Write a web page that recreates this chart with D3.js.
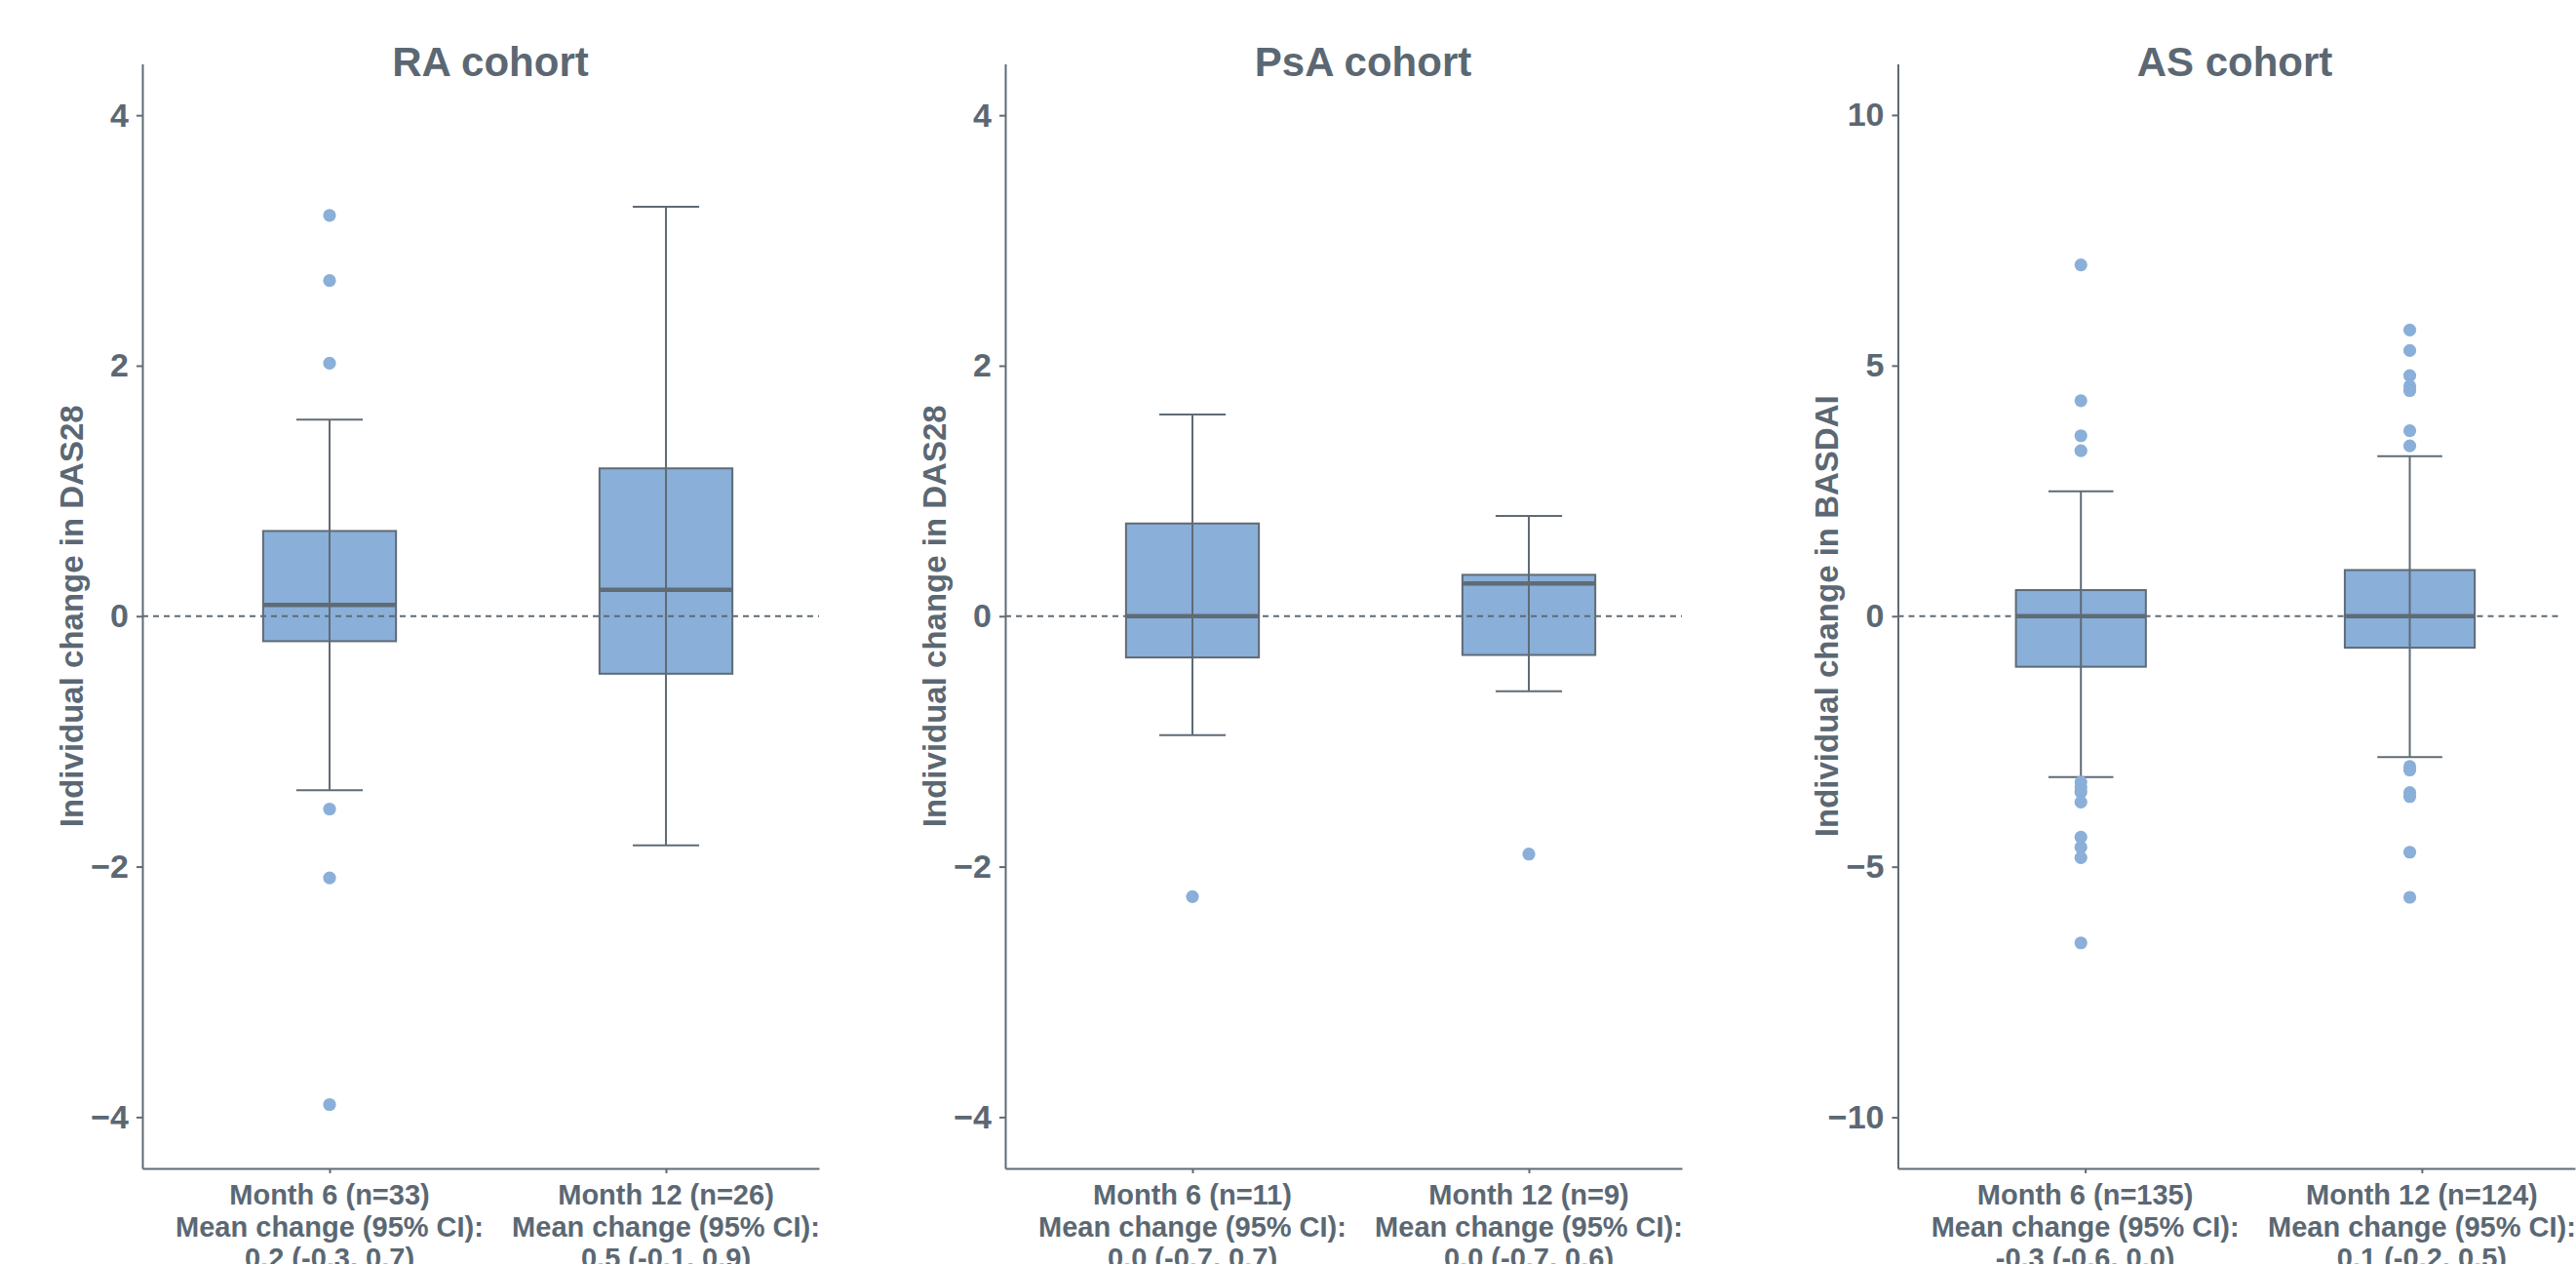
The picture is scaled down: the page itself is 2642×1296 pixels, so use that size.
<!DOCTYPE html>
<html>
<head>
<meta charset="utf-8">
<script src="https://cdn.jsdelivr.net/npm/d3@7"></script>
<style>
  html, body { margin: 0; padding: 0; background: #ffffff; }
  svg { display: block; }
  text { font-family: "Liberation Sans", Arial, sans-serif; font-weight: bold; fill: #5b6873; }
</style>
</head>
<body>
<svg id="chart" width="2642" height="1296"></svg>
<script>
// ---------- DATA ----------
const cohortTitles = ["RA cohort", "PsA cohort", "AS cohort"];
const yTitles = ["Individual change in DAS28", "Individual change in DAS28", "Individual change in BASDAI"];
const timepoints = [1, 2]; // Month 6, Month 12

const raTicks = [-4, -2, 0, 2, 4];
const psaTicks = [-4, -2, 0, 2, 4];
const asTicks = [-10, -5, 0, 5, 10];

// box statistics per timepoint [Month 6, Month 12]
const raLow = [-1.39, -1.83];
const raQ1 = [-0.20, -0.46];
const raMedian = [0.09, 0.21];
const raQ3 = [0.68, 1.18];
const raHigh = [1.57, 3.27];
const raOutM6 = [3.20, 2.68, 2.02, -1.54, -2.09, -3.90];
const raOutM12 = [];

const psaLow = [-0.95, -0.60];
const psaQ1 = [-0.33, -0.31];
const psaMedian = [0.0, 0.26];
const psaQ3 = [0.74, 0.33];
const psaHigh = [1.61, 0.80];
const psaOutM6 = [-2.24];
const psaOutM12 = [-1.90];

const asLow = [-3.21, -2.81];
const asQ1 = [-1.01, -0.63];
const asMedian = [0.0, 0.0];
const asQ3 = [0.52, 0.92];
const asHigh = [2.49, 3.19];
const asOutM6 = [7.01, 4.30, 3.60, 3.30, -3.31, -3.41, -3.51, -3.71, -4.41, -4.61, -4.82, -6.52];
const asOutM12 = [5.71, 5.30, 4.80, 4.59, 4.50, 3.70, 3.40, -3.00, -3.07, -3.52, -3.60, -4.71, -5.61];

const raLabels = [["Month 6 (n=33)", "Mean change (95% CI):", "0.2 (-0.3, 0.7)"],
                  ["Month 12 (n=26)", "Mean change (95% CI):", "0.5 (-0.1, 0.9)"]];
const psaLabels = [["Month 6 (n=11)", "Mean change (95% CI):", "0.0 (-0.7, 0.7)"],
                   ["Month 12 (n=9)", "Mean change (95% CI):", "0.0 (-0.7, 0.6)"]];
const asLabels = [["Month 6 (n=135)", "Mean change (95% CI):", "-0.3 (-0.6, 0.0)"],
                  ["Month 12 (n=124)", "Mean change (95% CI):", "0.1 (-0.2, 0.5)"]];

const yLimits = [4.41, 4.41, 11.02];

// ---------- LAYOUT ----------
const panels = [
  { axisLeft: 146, axisRight: 840, markRight: 840, titleX: 503,
    ticks: raTicks, low: raLow, q1: raQ1, med: raMedian, q3: raQ3, high: raHigh,
    outliers: [raOutM6, raOutM12], labels: raLabels },
  { axisLeft: 1031, axisRight: 1725, markRight: 1725, titleX: 1398,
    ticks: psaTicks, low: psaLow, q1: psaQ1, med: psaMedian, q3: psaQ3, high: psaHigh,
    outliers: [psaOutM6, psaOutM12], labels: psaLabels },
  { axisLeft: 1946.5, axisRight: 2641, markRight: 2625, titleX: 2292,
    ticks: asTicks, low: asLow, q1: asQ1, med: asMedian, q3: asQ3, high: asHigh,
    outliers: [asOutM6, asOutM12], labels: asLabels }
];

const plotTop = 65.5, plotBottom = 1198;
const xDomain = [0.4435, 2.455];
const inkColor = "#5f6b75";
const boxFill = "#8aafd8";

const svg = d3.select("#chart");
svg.append("rect").attr("width", 2642).attr("height", 1296).attr("fill", "#fff");

panels.forEach((p, i) => {
  const g = svg.append("g");
  const y = d3.scaleLinear().domain([-yLimits[i], yLimits[i]]).range([plotBottom, plotTop]);
  const xTick = d3.scaleLinear().domain(xDomain).range([p.axisLeft, p.axisRight]);
  const xMark = d3.scaleLinear().domain(xDomain).range([p.axisLeft, p.markRight]);
  const unit = xMark(2) - xMark(1);
  const boxW = unit * 0.395;
  const capW = boxW / 2;

  // title
  g.append("text").attr("x", p.titleX).attr("y", 78)
    .attr("text-anchor", "middle").attr("font-size", 42).text(cohortTitles[i]);

  // y axis title
  const yMid = (plotTop + plotBottom) / 2;
  g.append("text")
    .attr("transform", `translate(${p.axisLeft - 73},${yMid}) rotate(-90)`)
    .attr("text-anchor", "middle").attr("dominant-baseline", "central")
    .attr("font-size", 33).text(yTitles[i]);

  // boxes
  timepoints.forEach((t, k) => {
    const cx = xMark(t);
    g.append("rect")
      .attr("x", cx - boxW / 2).attr("y", y(p.q3[k]))
      .attr("width", boxW).attr("height", y(p.q1[k]) - y(p.q3[k]))
      .attr("fill", boxFill).attr("stroke", inkColor).attr("stroke-width", 2);
    g.append("line")
      .attr("x1", cx).attr("x2", cx).attr("y1", y(p.high[k])).attr("y2", y(p.low[k]))
      .attr("stroke", inkColor).attr("stroke-width", 2);
    [p.high[k], p.low[k]].forEach(v => {
      g.append("line")
        .attr("x1", cx - capW / 2).attr("x2", cx + capW / 2)
        .attr("y1", y(v)).attr("y2", y(v))
        .attr("stroke", inkColor).attr("stroke-width", 2);
    });
  });

  // zero reference line
  g.append("line")
    .attr("x1", p.axisLeft).attr("x2", p.markRight)
    .attr("y1", y(0)).attr("y2", y(0))
    .attr("stroke", inkColor).attr("stroke-width", 2)
    .attr("stroke-dasharray", "6,5");

  // medians and outliers
  timepoints.forEach((t, k) => {
    const cx = xMark(t);
    g.append("line")
      .attr("x1", cx - boxW / 2).attr("x2", cx + boxW / 2)
      .attr("y1", y(p.med[k])).attr("y2", y(p.med[k]))
      .attr("stroke", inkColor).attr("stroke-width", 4.5);
    g.selectAll(null).data(p.outliers[k]).enter().append("circle")
      .attr("cx", cx).attr("cy", d => y(d)).attr("r", 6.6)
      .attr("fill", boxFill);
  });

  // y axis
  const yAxis = d3.axisLeft(y).tickValues(p.ticks).tickSize(6).tickSizeOuter(0).tickPadding(8);
  const ya = g.append("g").attr("transform", `translate(${p.axisLeft},0)`).call(yAxis);
  ya.select(".domain").attr("stroke", inkColor).attr("stroke-width", 2);
  ya.selectAll(".tick line").attr("stroke", inkColor).attr("stroke-width", 2);
  ya.selectAll(".tick text").attr("font-size", 34).attr("font-family", null).attr("fill", null);

  // x axis
  const xAxis = d3.axisBottom(xTick).tickValues(timepoints).tickSize(5).tickSizeOuter(0).tickFormat("");
  const xa = g.append("g").attr("transform", `translate(0,${plotBottom})`).call(xAxis);
  xa.select(".domain").attr("stroke", inkColor).attr("stroke-width", 2);
  xa.selectAll(".tick line").attr("stroke", inkColor).attr("stroke-width", 2);

  timepoints.forEach((t, k) => {
    const txt = g.append("text").attr("text-anchor", "middle").attr("font-size", 29);
    p.labels[k].forEach((line, j) => {
      txt.append("tspan").attr("x", xTick(t)).attr("y", plotBottom + 37 + j * 32.7).text(line);
    });
  });
});
</script>
</body>
</html>
